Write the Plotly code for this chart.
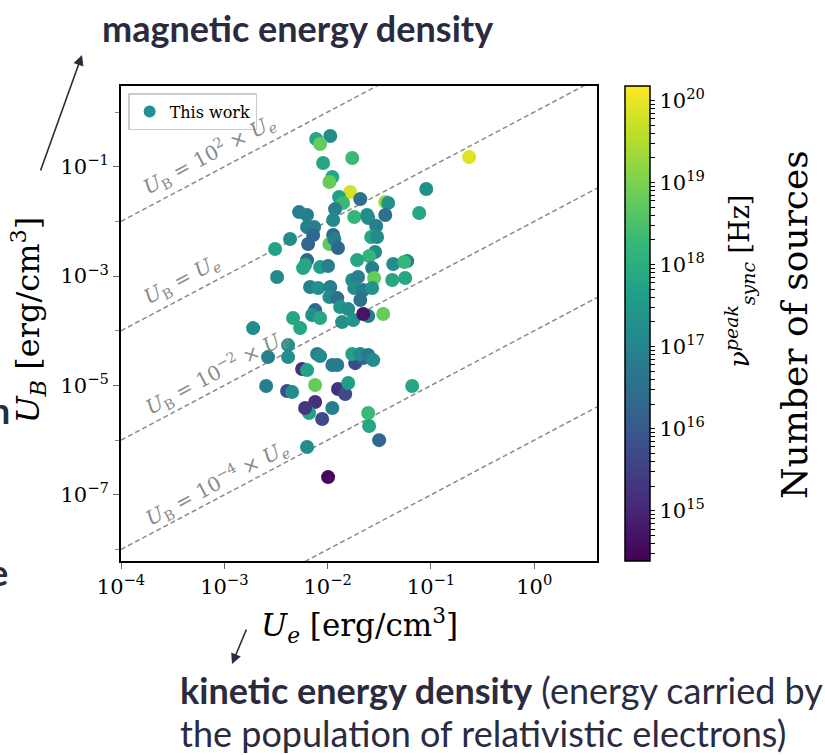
import numpy as np
import plotly.graph_objects as go

# ---------------- data ----------------
ue = [0.00774, 0.0106, 0.00846, 0.0173, 0.00904, 0.0111, 0.0104, 0.0165, 0.0129, 0.0207,
      0.0141, 0.0118, 0.0181, 0.00530, 0.00632, 0.0113, 0.0241, 0.0247, 0.0361, 0.0385,
      0.0361, 0.0295, 0.0900, 0.0769, 0.234, 0.00632, 0.00740, 0.00724, 0.0113, 0.00433,
      0.0264, 0.0301, 0.00310, 0.00647, 0.0104, 0.0116, 0.0126, 0.0288, 0.0252, 0.0193,
      0.00632, 0.00579, 0.00605, 0.00846, 0.0101, 0.00324, 0.0270, 0.0431, 0.0589, 0.0551,
      0.0282, 0.0422, 0.0563, 0.00676, 0.00809, 0.0106, 0.0173, 0.0197, 0.0181, 0.0221,
      0.0270, 0.0104, 0.0124, 0.0207, 0.0132, 0.0158, 0.00757, 0.00708, 0.00846, 0.0247,
      0.0345, 0.00463, 0.00542, 0.0138, 0.0177, 0.00190, 0.00414, 0.00265, 0.00414, 0.00791,
      0.00846, 0.0111, 0.0124, 0.00566, 0.00632, 0.0185, 0.0221, 0.0173, 0.0207, 0.0247,
      0.0276, 0.00254, 0.00405, 0.00453, 0.00757, 0.0126, 0.0148, 0.0158, 0.00757, 0.00662,
      0.00605, 0.00885, 0.0111, 0.0658, 0.0247, 0.0252, 0.0315, 0.00632, 0.0221, 0.0101]
ub = [0.322, 0.365, 0.260, 0.144, 0.117, 0.0648, 0.0525, 0.0344, 0.0279, 0.0256,
      0.0217, 0.0168, 0.0120, 0.0148, 0.0131, 0.0106, 0.0131, 0.0115, 0.0226, 0.0217,
      0.0131, 0.00822, 0.0391, 0.0142, 0.150, 0.00789, 0.00789, 0.00564, 0.00564, 0.00476,
      0.00518, 0.00518, 0.00313, 0.00386, 0.00386, 0.00476, 0.00326, 0.00275, 0.00232, 0.00196,
      0.00196, 0.00140, 0.00159, 0.00146, 0.00153, 0.000960, 0.00140, 0.00166, 0.00188, 0.00181,
      0.000920, 0.000846, 0.000920, 0.000630, 0.000604, 0.000630, 0.000846, 0.000960, 0.000604, 0.000555,
      0.000604, 0.000413, 0.000396, 0.000365, 0.000272, 0.000249, 0.000239, 0.000194, 0.000171, 0.000186,
      0.000202, 0.000171, 0.000112, 0.000144, 0.000157, 0.000112, 5.47e-5, 3.30e-5, 3.30e-5, 3.75e-5,
      3.44e-5, 2.36e-5, 2.36e-5, 2.00e-5, 1.91e-5, 2.56e-5, 3.17e-5, 3.75e-5, 3.75e-5, 3.60e-5,
      2.91e-5, 9.75e-6, 7.91e-6, 7.57e-6, 1.02e-5, 8.59e-6, 6.97e-6, 1.11e-5, 4.97e-6, 3.13e-6,
      3.86e-6, 2.43e-6, 3.86e-6, 9.75e-6, 3.13e-6, 1.81e-6, 1.00e-6, 7.47e-7, 2.02e-4, 2.11e-7]
nu_peak = [6.3e17, 1.6e17, 6.3e18, 2.0e18, 6.3e17, 6.3e17, 6.3e18, 6.3e19, 5.0e17, 3.2e16,
           2.0e18, 7.9e16, 1.6e18, 7.9e16, 7.9e16, 1.3e17, 2.0e17, 1.6e17, 2.0e19, 2.0e17,
           3.2e16, 7.9e16, 2.0e17, 6.3e17, 7.9e19, 7.9e16, 7.9e16, 2.0e16, 2.5e16, 1.6e17,
           6.3e17, 1.6e17, 5.0e17, 2.0e16, 5.0e18, 7.9e16, 2.0e16, 1.6e17, 1.6e18, 6.3e17,
           2.0e16, 6.3e17, 6.3e17, 4.0e17, 7.9e16, 1.3e17, 7.9e16, 1.6e17, 7.9e16, 1.6e18,
           6.3e18, 6.3e17, 6.3e17, 7.9e16, 2.0e17, 7.9e16, 1.6e17, 7.9e16, 1.6e17, 6.3e16,
           2.5e17, 1.6e17, 3.2e16, 3.2e16, 2.5e17, 1.6e17, 2.5e16, 2.0e17, 6.3e17, 7.9e16,
           6.3e18, 6.3e17, 6.3e17, 2.0e17, 2.5e17, 1.6e17, 2.0e17, 7.9e16, 1.6e17, 7.9e16,
           1.6e17, 6.3e16, 6.3e16, 1.6e15, 5.0e17, 5.0e15, 2.0e16, 5.0e17, 1.6e17, 5.0e16,
           1.6e17, 7.9e16, 5.0e15, 1.6e17, 6.3e18, 1.6e15, 5.0e15, 4.0e17, 1.6e15, 5.0e17,
           2.0e15, 5.0e15, 7.9e16, 6.3e17, 2.0e18, 6.3e17, 2.0e16, 1.6e17, 5.0e14, 3.2e14]
nu_min, nu_max = 2.45e14, 1.5e20

ratios = [1e2, 1.0, 1e-2, 1e-4, 1e-6]
ratio_labels = ["<i>U</i><sub>B</sub> = 10<sup>2</sup> × <i>U<sub>e</sub></i>",
                "<i>U</i><sub>B</sub> = <i>U<sub>e</sub></i>",
                "<i>U</i><sub>B</sub> = 10<sup>−2</sup> × <i>U<sub>e</sub></i>",
                "<i>U</i><sub>B</sub> = 10<sup>−4</sup> × <i>U<sub>e</sub></i>"]
label_pos = [(-3.148, -0.768), (-3.409, -3.072), (-3.080, -4.755), (-3.080, -6.786)]

x_tick_exp = [-4, -3, -2, -1, 0]
y_tick_exp = [-7, -5, -3, -1]
y_minor_exp = [-8, -6, -4, -2, 0]
cb_tick_exp = [15, 16, 17, 18, 19, 20]

x_range_log = [-4.0, 0.607]
y_range_log = [-8.21, 0.476]

SERIF = "DejaVu Serif"
SANS = "Lato"
DARK = "#2b2b3f"

fig = go.Figure()

# reference lines
x_line = np.array([10 ** x_range_log[0], 10 ** x_range_log[1]])
for r in ratios:
    fig.add_trace(go.Scatter(x=x_line, y=r * x_line, mode="lines",
                             line=dict(color="#8a8a8a", width=1.5, dash="5px,3px"),
                             showlegend=False, hoverinfo="skip"))

# colorbar ticks (major + minor)
cb_vals, cb_text = [], []
lo, hi = np.log10(nu_min), np.log10(nu_max)
for n in range(14, 21):
    for k in range(1, 10):
        v = np.log10(k * 10.0 ** n)
        if lo <= v <= hi:
            cb_vals.append(v)
            cb_text.append(f"10<sup>{n}</sup>" if (k == 1 and n in cb_tick_exp) else "")

fig.add_trace(go.Scatter(
    x=ue, y=ub, mode="markers", showlegend=False,
    marker=dict(size=14, color=np.log10(nu_peak), colorscale="Viridis",
                cmin=lo, cmax=hi, line=dict(width=0), opacity=1,
                colorbar=dict(thickness=25, len=1, lenmode="fraction", x=1.059,
                              xanchor="left", y=0.5, yanchor="middle",
                              outlinewidth=1.5, outlinecolor="black",
                              ticks="outside", ticklen=5, tickcolor="black",
                              tickmode="array", tickvals=cb_vals, ticktext=cb_text,
                              tickfont=dict(family=SERIF, size=21, color="black"),
                              ypad=0, xpad=0))))

# legend proxy
fig.add_trace(go.Scatter(x=[None], y=[None], mode="markers", name="This work",
                         marker=dict(size=14, color="#21918c")))

annotations = []
for txt, (ax_, ay_) in zip(ratio_labels, label_pos):
    annotations.append(dict(x=ax_, y=ay_, xref="x", yref="y", text=txt, showarrow=False,
                            xanchor="center", yanchor="middle",
                            textangle=-27.9, font=dict(family=SERIF, size=20, color="#8a8a8a")))


def ann(x, y, text, size, family=SERIF, angle=0, xanchor="center", color="black"):
    return dict(x=x, y=y, xref="paper", yref="paper", text=text, showarrow=False,
                textangle=angle, xanchor=xanchor, yanchor="middle",
                font=dict(family=family, size=size, color=color))


annotations += [
    ann(-0.195, 0.507, "<i>U<sub>B</sub></i> [erg/cm<sup>3</sup>]", 32, angle=-90),
    ann(0.502, -0.135, "<i>U<sub>e</sub></i> [erg/cm<sup>3</sup>]", 31),
    ann(1.300, 0.59, "<i>ν</i><sup><i>peak</i></sup><sub><i>sync</i></sub> [Hz]", 27, angle=-90),
    ann(1.416, 0.497, "Number of sources", 36, angle=-90),
    ann(-0.0441, 1.122, "<b>magnetic energy density</b>", 36, family=SANS, xanchor="left", color=DARK),
    ann(0.1197, -0.2716, "<b>kinetic energy density</b> (energy carried by", 36,
        family=SANS, xanchor="left", color=DARK),
    ann(0.1197, -0.362, "the population of relativistic electrons)", 36,
        family=SANS, xanchor="left", color=DARK),
    ann(-0.229, 0.318, "<b>m</b>", 36, family=SANS, xanchor="right", color=DARK),
    ann(-0.234, -0.023, "<b>e</b>", 36, family=SANS, xanchor="right", color=DARK),
    # arrows
    dict(x=-0.0819, y=1.0653, xref="paper", yref="paper", text="", showarrow=True,
         ax=-42, ay=117, arrowhead=2, arrowsize=1.3, arrowwidth=1.6, arrowcolor=DARK),
    dict(x=0.2332, y=-0.2168, xref="paper", yref="paper", text="", showarrow=True,
         ax=15, ay=-36, arrowhead=2, arrowsize=1.3, arrowwidth=1.6, arrowcolor=DARK),
]

axis_common = dict(type="log", showline=True, linecolor="black", linewidth=2, mirror=True,
                   ticks="outside", ticklen=6, tickcolor="#666666", tickwidth=1,
                   showgrid=False, zeroline=False,
                   tickfont=dict(family=SERIF, size=21, color="black"))

fig.update_layout(
    width=825, height=755,
    margin=dict(l=121, r=228, t=86, b=194),
    plot_bgcolor="white", paper_bgcolor="white",
    xaxis=dict(range=x_range_log, tickmode="array",
               tickvals=[10.0 ** e for e in x_tick_exp],
               ticktext=[f"10<sup>{e}</sup>".replace("-", "−") for e in x_tick_exp],
               **axis_common),
    yaxis=dict(range=y_range_log, tickmode="array",
               tickvals=[10.0 ** e for e in y_tick_exp],
               ticktext=[f"10<sup>{e}</sup>".replace("-", "−") for e in y_tick_exp],
               minor=dict(tickmode="array", tickvals=[10.0 ** e for e in y_minor_exp],
                          ticklen=4, tickcolor="#888888", ticks="outside"),
               **axis_common),
    legend=dict(x=0.015, y=0.985, xanchor="left", yanchor="top",
                bgcolor="white", bordercolor="#cccccc", borderwidth=1.5,
                font=dict(family=SERIF, size=16, color="black"), itemsizing="constant"),
    annotations=annotations,
)

fig.write_html("out.html")
